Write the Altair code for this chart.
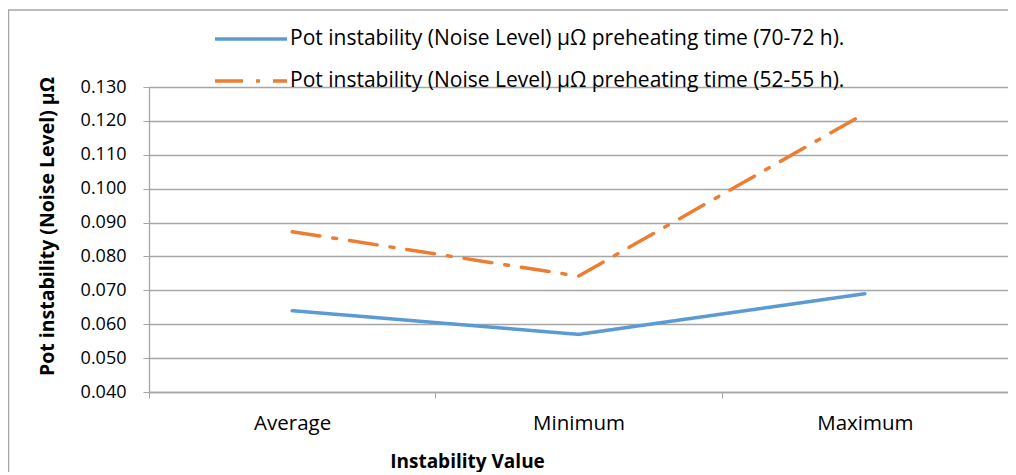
import altair as alt
import pandas as pd

categories = ["Average", "Minimum", "Maximum"]
series_names = [
    "Pot instability (Noise Level) μΩ preheating time (70-72 h).",
    "Pot instability (Noise Level) μΩ preheating time (52-55 h).",
]
values_70_72 = [0.064, 0.057, 0.069]
values_52_55 = [0.0873, 0.0742, 0.1222]
y_ticks = [0.04, 0.05, 0.06, 0.07, 0.08, 0.09, 0.10, 0.11, 0.12, 0.13]
colors = ["#5B9BD5", "#ED7D31"]
dashes = [[1, 0], [28, 13, 4, 13]]

rows = []
for name, vals in zip(series_names, [values_70_72, values_52_55]):
    for c, v in zip(categories, vals):
        rows.append({"series": name, "stat": c, "value": v})
df = pd.DataFrame(rows)

FONT = "Open Sans"
legend = alt.Legend(
    title=None,
    orient="none",
    legendX=88,
    legendY=-62,
    direction="vertical",
    symbolType="M-3,0H3",
    symbolSize=576,
    symbolStrokeWidth=3.5,
    labelFont=FONT,
    labelFontSize=21,
    labelColor="#000000",
    labelOffset=25,
    labelLimit=800,
    rowPadding=18,
    padding=0,
)

lines = alt.Chart(df).mark_line(strokeWidth=3.5, strokeCap="round").encode(
    x=alt.X(
        "stat:N",
        sort=categories,
        scale=alt.Scale(paddingInner=0, paddingOuter=0),
        axis=alt.Axis(
            title="Instability Value",
            titleFont=FONT,
            titleFontSize=19,
            titleFontWeight="bold",
            titleColor="#000000",
            titleX=318,
            titleY=69,
            titleBaseline="middle",
            titleAnchor="middle",
            labelFont=FONT,
            labelFontSize=20.5,
            labelColor="#000000",
            labelAngle=0,
            labelPadding=15,
            tickBand="extent",
            tickColor="#A6A6A6",
            tickSize=6,
            domainColor="#A6A6A6",
            domainWidth=1.3,
            grid=False,
        ),
    ),
    y=alt.Y(
        "value:Q",
        scale=alt.Scale(domain=[0.04, 0.13], nice=False, zero=False),
        axis=alt.Axis(
            title="Pot instability (Noise Level) μΩ",
            titleFont=FONT,
            titleFontSize=19.5,
            titleFontWeight="bold",
            titleColor="#000000",
            titleX=-102,
            titleY=139,
            titleAngle=270,
            titleBaseline="middle",
            titleAnchor="middle",
            values=y_ticks,
            format=".3f",
            labelFont=FONT,
            labelFontSize=18,
            labelColor="#000000",
            labelPadding=17,
            tickColor="#A6A6A6",
            tickSize=6,
            domainColor="#A6A6A6",
            domainWidth=1.3,
            grid=True,
            gridColor="#A6A6A6",
            gridWidth=1.3,
        ),
    ),
    color=alt.Color("series:N", scale=alt.Scale(domain=series_names, range=colors), legend=legend),
    strokeDash=alt.StrokeDash("series:N", scale=alt.Scale(domain=series_names, range=dashes), legend=legend),
)

frame = alt.Chart(pd.DataFrame({"a": [0]})).mark_rect(
    fill="white", fillOpacity=0, stroke="#A6A6A6", strokeWidth=1.5
).encode(
    x=alt.value(-140.5), x2=alt.value(950), y=alt.value(-77), y2=alt.value(450)
)

chart = alt.layer(frame, lines).properties(
    width=859,
    height=305,
    padding={"left": 141, "top": 79, "right": 0, "bottom": 80},
    autosize=alt.AutoSizeParams(type="none"),
    background="white",
).configure_view(strokeWidth=0, stroke="transparent")

chart.save("out.html", embed_options={"renderer": "svg", "actions": False})
